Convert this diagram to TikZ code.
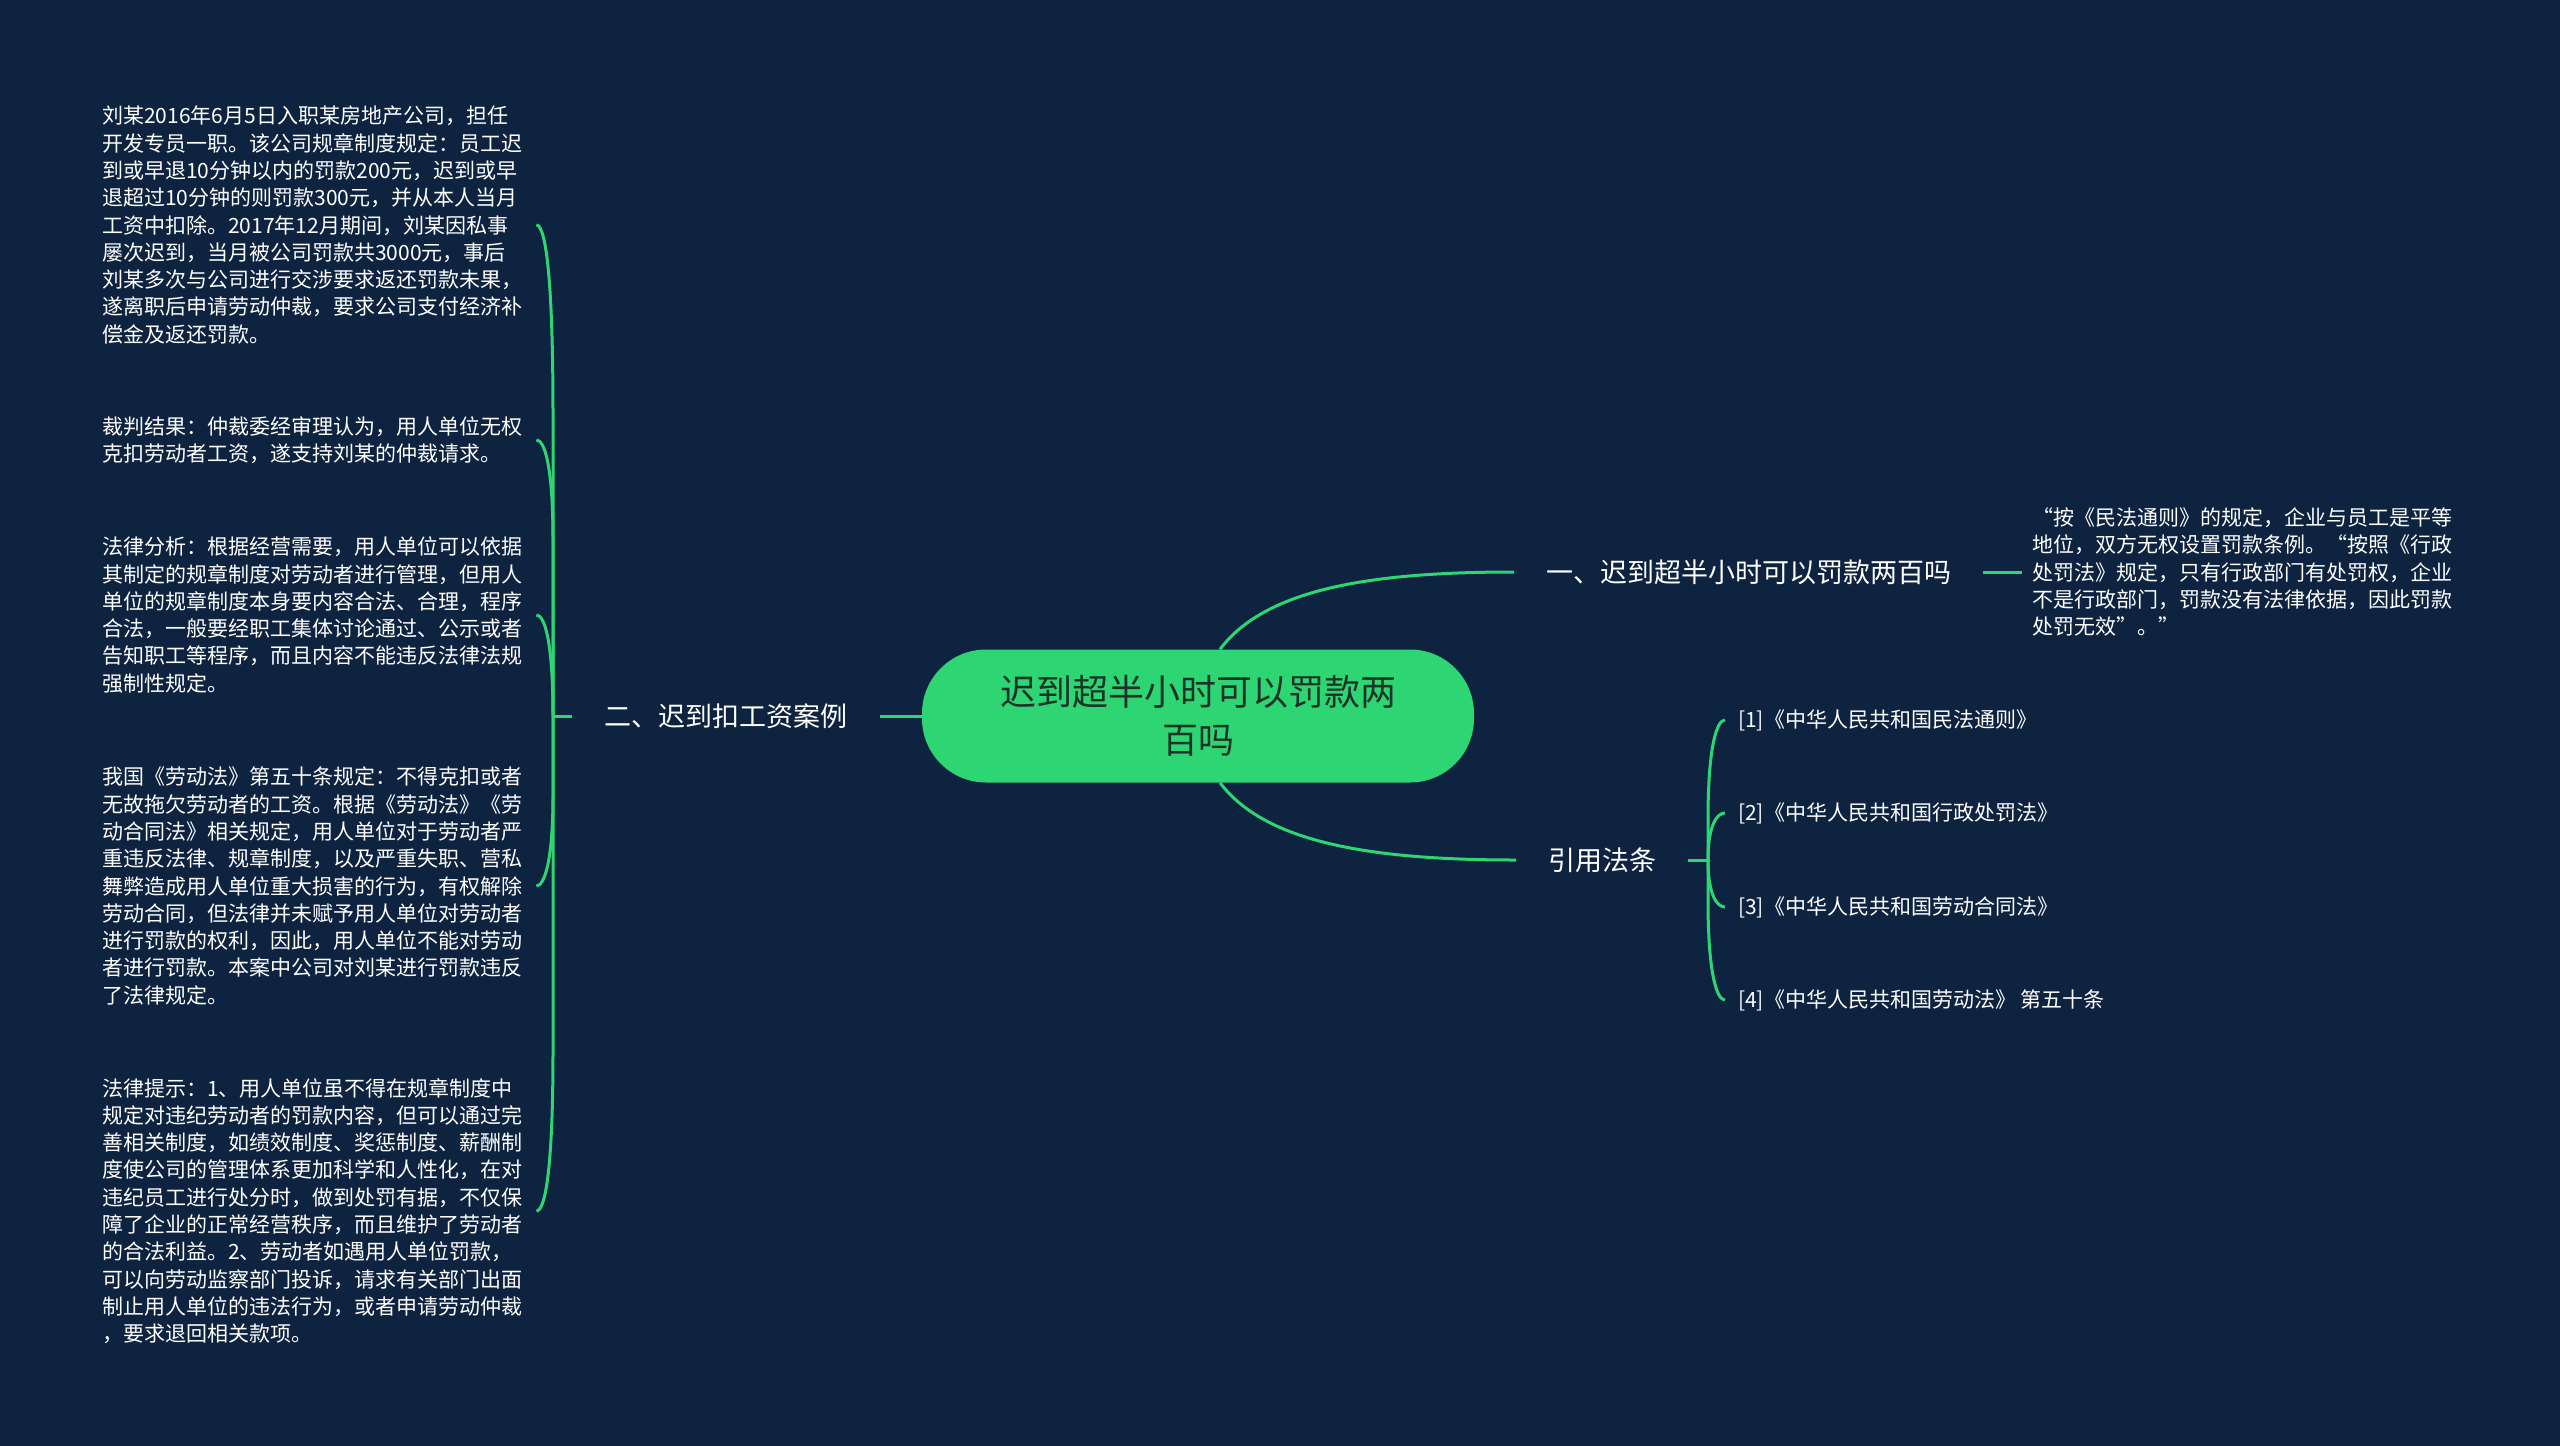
\documentclass[tikz,border=0pt]{standalone}
\usepackage{fontspec}
\setmainfont{Noto Sans CJK SC}
\usetikzlibrary{positioning, calc}
\definecolor{bgnavy}{HTML}{0D2340}
\definecolor{mintgreen}{HTML}{2ED573}
\definecolor{darktext}{HTML}{1C3328}

\begin{document}
\begin{tikzpicture}[
    x=1pt, y=-1pt,
    root/.style={rectangle, rounded corners=64pt, minimum width=552pt, minimum height=133pt, fill=mintgreen, text=darktext, align=center, font=\fontsize{36pt}{48pt}\selectfont},
    branch/.style={inner xsep=32pt, inner ysep=4pt, text=white, font=\fontsize{27pt}{32pt}\selectfont},
    leaf/.style={anchor=west, inner xsep=10pt, inner ysep=0pt, text width=424pt, text=white, align=left, font=\fontsize{21pt}{27.3pt}\selectfont},
    cite/.style={anchor=west, inner xsep=13pt, inner ysep=2pt, text=white, font=\fontsize{21pt}{27pt}\selectfont},
    link/.style={draw=mintgreen, line width=3pt}
]
\fill[bgnavy] (0,0) rectangle (2560,1446);

% Nodes
\node (root) [root] at (1198,716) {迟到超半小时可以罚款两\\百吗};

\node (lb) [branch, left=42pt of root] {二、迟到扣工资案例};
\node (b1) [branch, anchor=west] at (1514,572) {一、迟到超半小时可以罚款两百吗};
\node (b2) [branch, anchor=west] at (1516,860) {引用法条};

\node (note) [leaf, right=39pt of b1, text width=445pt] {“按《民法通则》的规定，企业与员工是平等\\
地位，双方无权设置罚款条例。“按照《行政\\
处罚法》规定，只有行政部门有处罚权，企业\\
不是行政部门，罚款没有法律依据，因此罚款\\
处罚无效”。”};

\node (blk1) [leaf] at (92,225) {刘某2016年6月5日入职某房地产公司，担任\\
开发专员一职。该公司规章制度规定：员工迟\\
到或早退10分钟以内的罚款200元，迟到或早\\
退超过10分钟的则罚款300元，并从本人当月\\
工资中扣除。2017年12月期间，刘某因私事\\
屡次迟到，当月被公司罚款共3000元，事后\\
刘某多次与公司进行交涉要求返还罚款未果，\\
遂离职后申请劳动仲裁，要求公司支付经济补\\
偿金及返还罚款。};

\node (blk2) [leaf] at (92,440) {裁判结果：仲裁委经审理认为，用人单位无权\\
克扣劳动者工资，遂支持刘某的仲裁请求。};

\node (blk3) [leaf] at (92,615) {法律分析：根据经营需要，用人单位可以依据\\
其制定的规章制度对劳动者进行管理，但用人\\
单位的规章制度本身要内容合法、合理，程序\\
合法，一般要经职工集体讨论通过、公示或者\\
告知职工等程序，而且内容不能违反法律法规\\
强制性规定。};

\node (blk4) [leaf] at (92,886) {我国《劳动法》第五十条规定：不得克扣或者\\
无故拖欠劳动者的工资。根据《劳动法》《劳\\
动合同法》相关规定，用人单位对于劳动者严\\
重违反法律、规章制度，以及严重失职、营私\\
舞弊造成用人单位重大损害的行为，有权解除\\
劳动合同，但法律并未赋予用人单位对劳动者\\
进行罚款的权利，因此，用人单位不能对劳动\\
者进行罚款。本案中公司对刘某进行罚款违反\\
了法律规定。};

\node (blk5) [leaf] at (92,1211) {法律提示：1、用人单位虽不得在规章制度中\\
规定对违纪劳动者的罚款内容，但可以通过完\\
善相关制度，如绩效制度、奖惩制度、薪酬制\\
度使公司的管理体系更加科学和人性化，在对\\
违纪员工进行处分时，做到处罚有据，不仅保\\
障了企业的正常经营秩序，而且维护了劳动者\\
的合法利益。2、劳动者如遇用人单位罚款，\\
可以向劳动监察部门投诉，请求有关部门出面\\
制止用人单位的违法行为，或者申请劳动仲裁\\
，要求退回相关款项。};

\node (c1) [cite] at (1725,720) {[1]《中华人民共和国民法通则》};
\node (c2) [cite] at (1725,813) {[2]《中华人民共和国行政处罚法》};
\node (c3) [cite] at (1725,907) {[3]《中华人民共和国劳动合同法》};
\node (c4) [cite] at (1725,1000) {[4]《中华人民共和国劳动法》 第五十条};

\coordinate (lj) at (553,716);
\coordinate (rj) at (1708,860);

% Connectors
\draw[link] ([xshift=22pt]root.north) .. controls +(45,-60) and +(-145,0) .. (b1.west);
\draw[link] ([xshift=22pt]root.south) .. controls +(45,60) and +(-145,0) .. (b2.west);
\draw[link] (root.west) -- (lb.east);
\draw[link] (b1.east) -- (note.west);
\draw[link] (lb.west) -- (lj);
\draw[link] (b2.east) -- (rj);

% left bracket
\draw[link] (lj) -- ($(lj |- blk1.east)+(0,190)$) .. controls ($(lj |- blk1.east)+(0,40)$) and ($(blk1.east)+(8,0)$) .. (blk1.east);
\draw[link] (lj) -- ($(lj |- blk2.east)+(0,100)$) .. controls ($(lj |- blk2.east)+(0,25)$) and ($(blk2.east)+(8,0)$) .. (blk2.east);
\draw[link] (lj) .. controls ($(lj |- blk3.east)+(0,25)$) and ($(blk3.east)+(8,0)$) .. (blk3.east);
\draw[link] (lj) -- ($(lj |- blk4.east)+(0,-90)$) .. controls ($(lj |- blk4.east)+(0,-25)$) and ($(blk4.east)+(8,0)$) .. (blk4.east);
\draw[link] (lj) -- ($(lj |- blk5.east)+(0,-160)$) .. controls ($(lj |- blk5.east)+(0,-35)$) and ($(blk5.east)+(8,0)$) .. (blk5.east);

% right bracket
\draw[link] (rj) -- ($(rj |- c1.west)+(0,100)$) .. controls ($(rj |- c1.west)+(0,25)$) and ($(c1.west)+(-8,0)$) .. (c1.west);
\draw[link] (rj) .. controls ($(rj |- c2.west)+(0,12)$) and ($(c2.west)+(-8,0)$) .. (c2.west);
\draw[link] (rj) .. controls ($(rj |- c3.west)+(0,-12)$) and ($(c3.west)+(-8,0)$) .. (c3.west);
\draw[link] (rj) -- ($(rj |- c4.west)+(0,-100)$) .. controls ($(rj |- c4.west)+(0,-25)$) and ($(c4.west)+(-8,0)$) .. (c4.west);

\end{tikzpicture}
\end{document}
